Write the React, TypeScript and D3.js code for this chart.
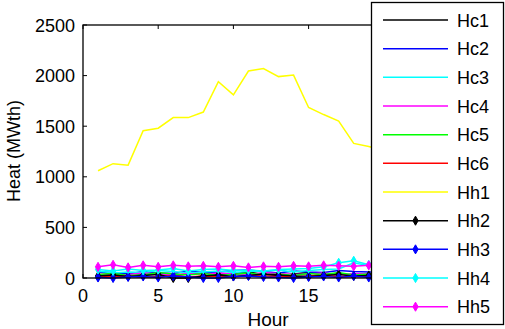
import React, { useEffect, useRef } from "react";
import * as d3 from "d3";

// hours of the day
const hours = [1, 2, 3, 4, 5, 6, 7, 8, 9, 10, 11, 12, 13, 14, 15, 16, 17, 18, 19, 20, 21, 22, 23, 24];

const hc1 = [30, 45, 20, 35, 50, 25, 40, 55, 30, 45, 60, 35, 25, 40, 55, 30, 45, 20, 35, 40, 30, 25, 35, 30];
const hc2 = [60, 55, 40, 65, 50, 45, 70, 55, 60, 75, 80, 65, 50, 70, 60, 55, 75, 65, 60, 55, 50, 45, 55, 60];
const hc3 = [70, 50, 60, 55, 75, 65, 50, 60, 70, 55, 65, 70, 80, 60, 75, 85, 90, 150, 120, 100, 90, 80, 75, 70];
const hc4 = [40, 30, 35, 50, 40, 30, 45, 35, 50, 40, 30, 55, 45, 35, 40, 50, 30, 45, 40, 35, 30, 40, 45, 35];
const hc5 = [35, 45, 25, 30, 55, 40, 30, 45, 25, 35, 50, 30, 40, 25, 45, 35, 55, 30, 40, 35, 45, 30, 35, 40];
const hc6 = [10, 15, 20, 5, 15, 25, 10, 20, 15, 10, 25, 20, 15, 10, 20, 25, 15, 10, 20, 15, 10, 15, 20, 15];
const hh1 = [1060, 1130, 1115, 1455, 1480, 1585, 1585, 1640, 1940, 1810, 2045, 2070, 1990, 2005, 1685, 1615, 1550, 1330, 1300, 1260, 1220, 1180, 1130, 1090];
const hh2 = [20, 30, 15, 25, 35, 0, 0, 20, 30, 15, 25, 40, 30, 20, 15, 25, 35, 20, 25, 30, 20, 15, 25, 20];
const hh3 = [5, 0, 10, 15, 5, 20, 10, 0, 0, 15, 20, 10, 5, 0, 10, 15, 5, 20, 5, 10, 15, 5, 10, 5];
const hh4 = [85, 70, 90, 75, 80, 95, 70, 85, 90, 75, 80, 70, 85, 90, 95, 110, 150, 170, 130, 110, 95, 90, 85, 80];
const hh5 = [110, 130, 105, 125, 110, 125, 115, 120, 110, 120, 105, 115, 110, 120, 115, 125, 120, 115, 125, 120, 115, 110, 120, 115];

const seriesNames = ["Hc1", "Hc2", "Hc3", "Hc4", "Hc5", "Hc6", "Hh1", "Hh2", "Hh3", "Hh4", "Hh5"];
const seriesValues = [hc1, hc2, hc3, hc4, hc5, hc6, hh1, hh2, hh3, hh4, hh5];
const seriesColors = ["#000000", "#0000ff", "#00ffff", "#ff00ff", "#00ff00", "#ff0000", "#ffff00", "#000000", "#0000ff", "#00ffff", "#ff00ff"];
const seriesMarkers = [false, false, false, false, false, false, false, true, true, true, true];

const xTicks = [0, 5, 10, 15, 20, 25];
const yTicks = [0, 500, 1000, 1500, 2000, 2500];

const App = () => {
  const ref = useRef<SVGSVGElement>(null);

  useEffect(() => {
    const svg = d3.select(ref.current);
    svg.selectAll("*").remove();

    const font = "Arial, 'Liberation Sans', sans-serif";
    const left = 83, right = 459, top = 25, bottom = 278;
    const legendLeft = 371.5;

    const x = d3.scaleLinear().domain([0, 25]).range([left, right]);
    const y = d3.scaleLinear().domain([0, 2500]).range([bottom, top]);

    const marker = d3.symbol().type(d3.symbolDiamond).size(24);

    // Lines
    const line = d3.line<number>()
      .x((d, i) => x(hours[i]))
      .y(d => y(d));

    seriesValues.forEach((vals, s) => {
      svg.append("path")
        .attr("d", line(vals))
        .attr("fill", "none")
        .attr("stroke", seriesColors[s])
        .attr("stroke-width", 1.5);
      if (seriesMarkers[s]) {
        svg.selectAll(null)
          .data(vals)
          .join("path")
          .attr("d", marker)
          .attr("transform", (d, i) => `translate(${x(hours[i])},${y(d)})`)
          .attr("fill", seriesColors[s])
          .attr("stroke", seriesColors[s]);
      }
    });

    // Box
    svg.append("rect")
      .attr("x", left).attr("y", top)
      .attr("width", right - left).attr("height", bottom - top)
      .attr("fill", "none").attr("stroke", "#000").attr("stroke-width", 1.3);

    // Ticks (inside); labels under the legend are hidden there anyway
    xTicks.forEach(t => {
      svg.append("line").attr("x1", x(t)).attr("x2", x(t)).attr("y1", bottom).attr("y2", bottom - 4).attr("stroke", "#000");
      svg.append("line").attr("x1", x(t)).attr("x2", x(t)).attr("y1", top).attr("y2", top + 4).attr("stroke", "#000");
      if (x(t) < legendLeft - 10) {
        svg.append("text")
          .attr("x", x(t)).attr("y", 302)
          .attr("text-anchor", "middle")
          .attr("font-family", font).attr("font-size", 18)
          .text(t);
      }
    });
    yTicks.forEach(t => {
      svg.append("line").attr("x1", left).attr("x2", left + 4).attr("y1", y(t)).attr("y2", y(t)).attr("stroke", "#000");
      svg.append("line").attr("x1", right).attr("x2", right - 4).attr("y1", y(t)).attr("y2", y(t)).attr("stroke", "#000");
      svg.append("text")
        .attr("x", 75).attr("y", y(t) + 6.5)
        .attr("text-anchor", "end")
        .attr("font-family", font).attr("font-size", 18)
        .text(t);
    });

    // Axis titles
    svg.append("text")
      .attr("x", 268).attr("y", 326)
      .attr("text-anchor", "middle")
      .attr("font-family", font).attr("font-size", 19)
      .text("Hour");
    svg.append("text")
      .attr("transform", "translate(20,151) rotate(-90)")
      .attr("text-anchor", "middle")
      .attr("font-family", font).attr("font-size", 18)
      .text("Heat (MWth)");

    // Legend
    const lg = svg.append("g");
    lg.append("rect")
      .attr("x", legendLeft).attr("y", 2.5)
      .attr("width", 132).attr("height", 322)
      .attr("fill", "#fff").attr("stroke", "#000").attr("stroke-width", 1.3);
    seriesNames.forEach((name, i) => {
      const yy = 20 + i * 28.67;
      lg.append("line")
        .attr("x1", 383).attr("x2", 448).attr("y1", yy).attr("y2", yy)
        .attr("stroke", seriesColors[i]).attr("stroke-width", 1.5);
      if (seriesMarkers[i]) {
        lg.append("path").attr("d", marker)
          .attr("transform", `translate(415.5,${yy})`)
          .attr("fill", seriesColors[i]).attr("stroke", seriesColors[i]);
      }
      lg.append("text")
        .attr("x", 457).attr("y", yy + 6.5)
        .attr("font-family", font).attr("font-size", 18)
        .text(name);
    });
  }, []);

  return (
    <svg ref={ref} width={505} height={329}
      style={{ position: "absolute", left: 0, top: 0, background: "#fff" }} />
  );
};

export default App;
